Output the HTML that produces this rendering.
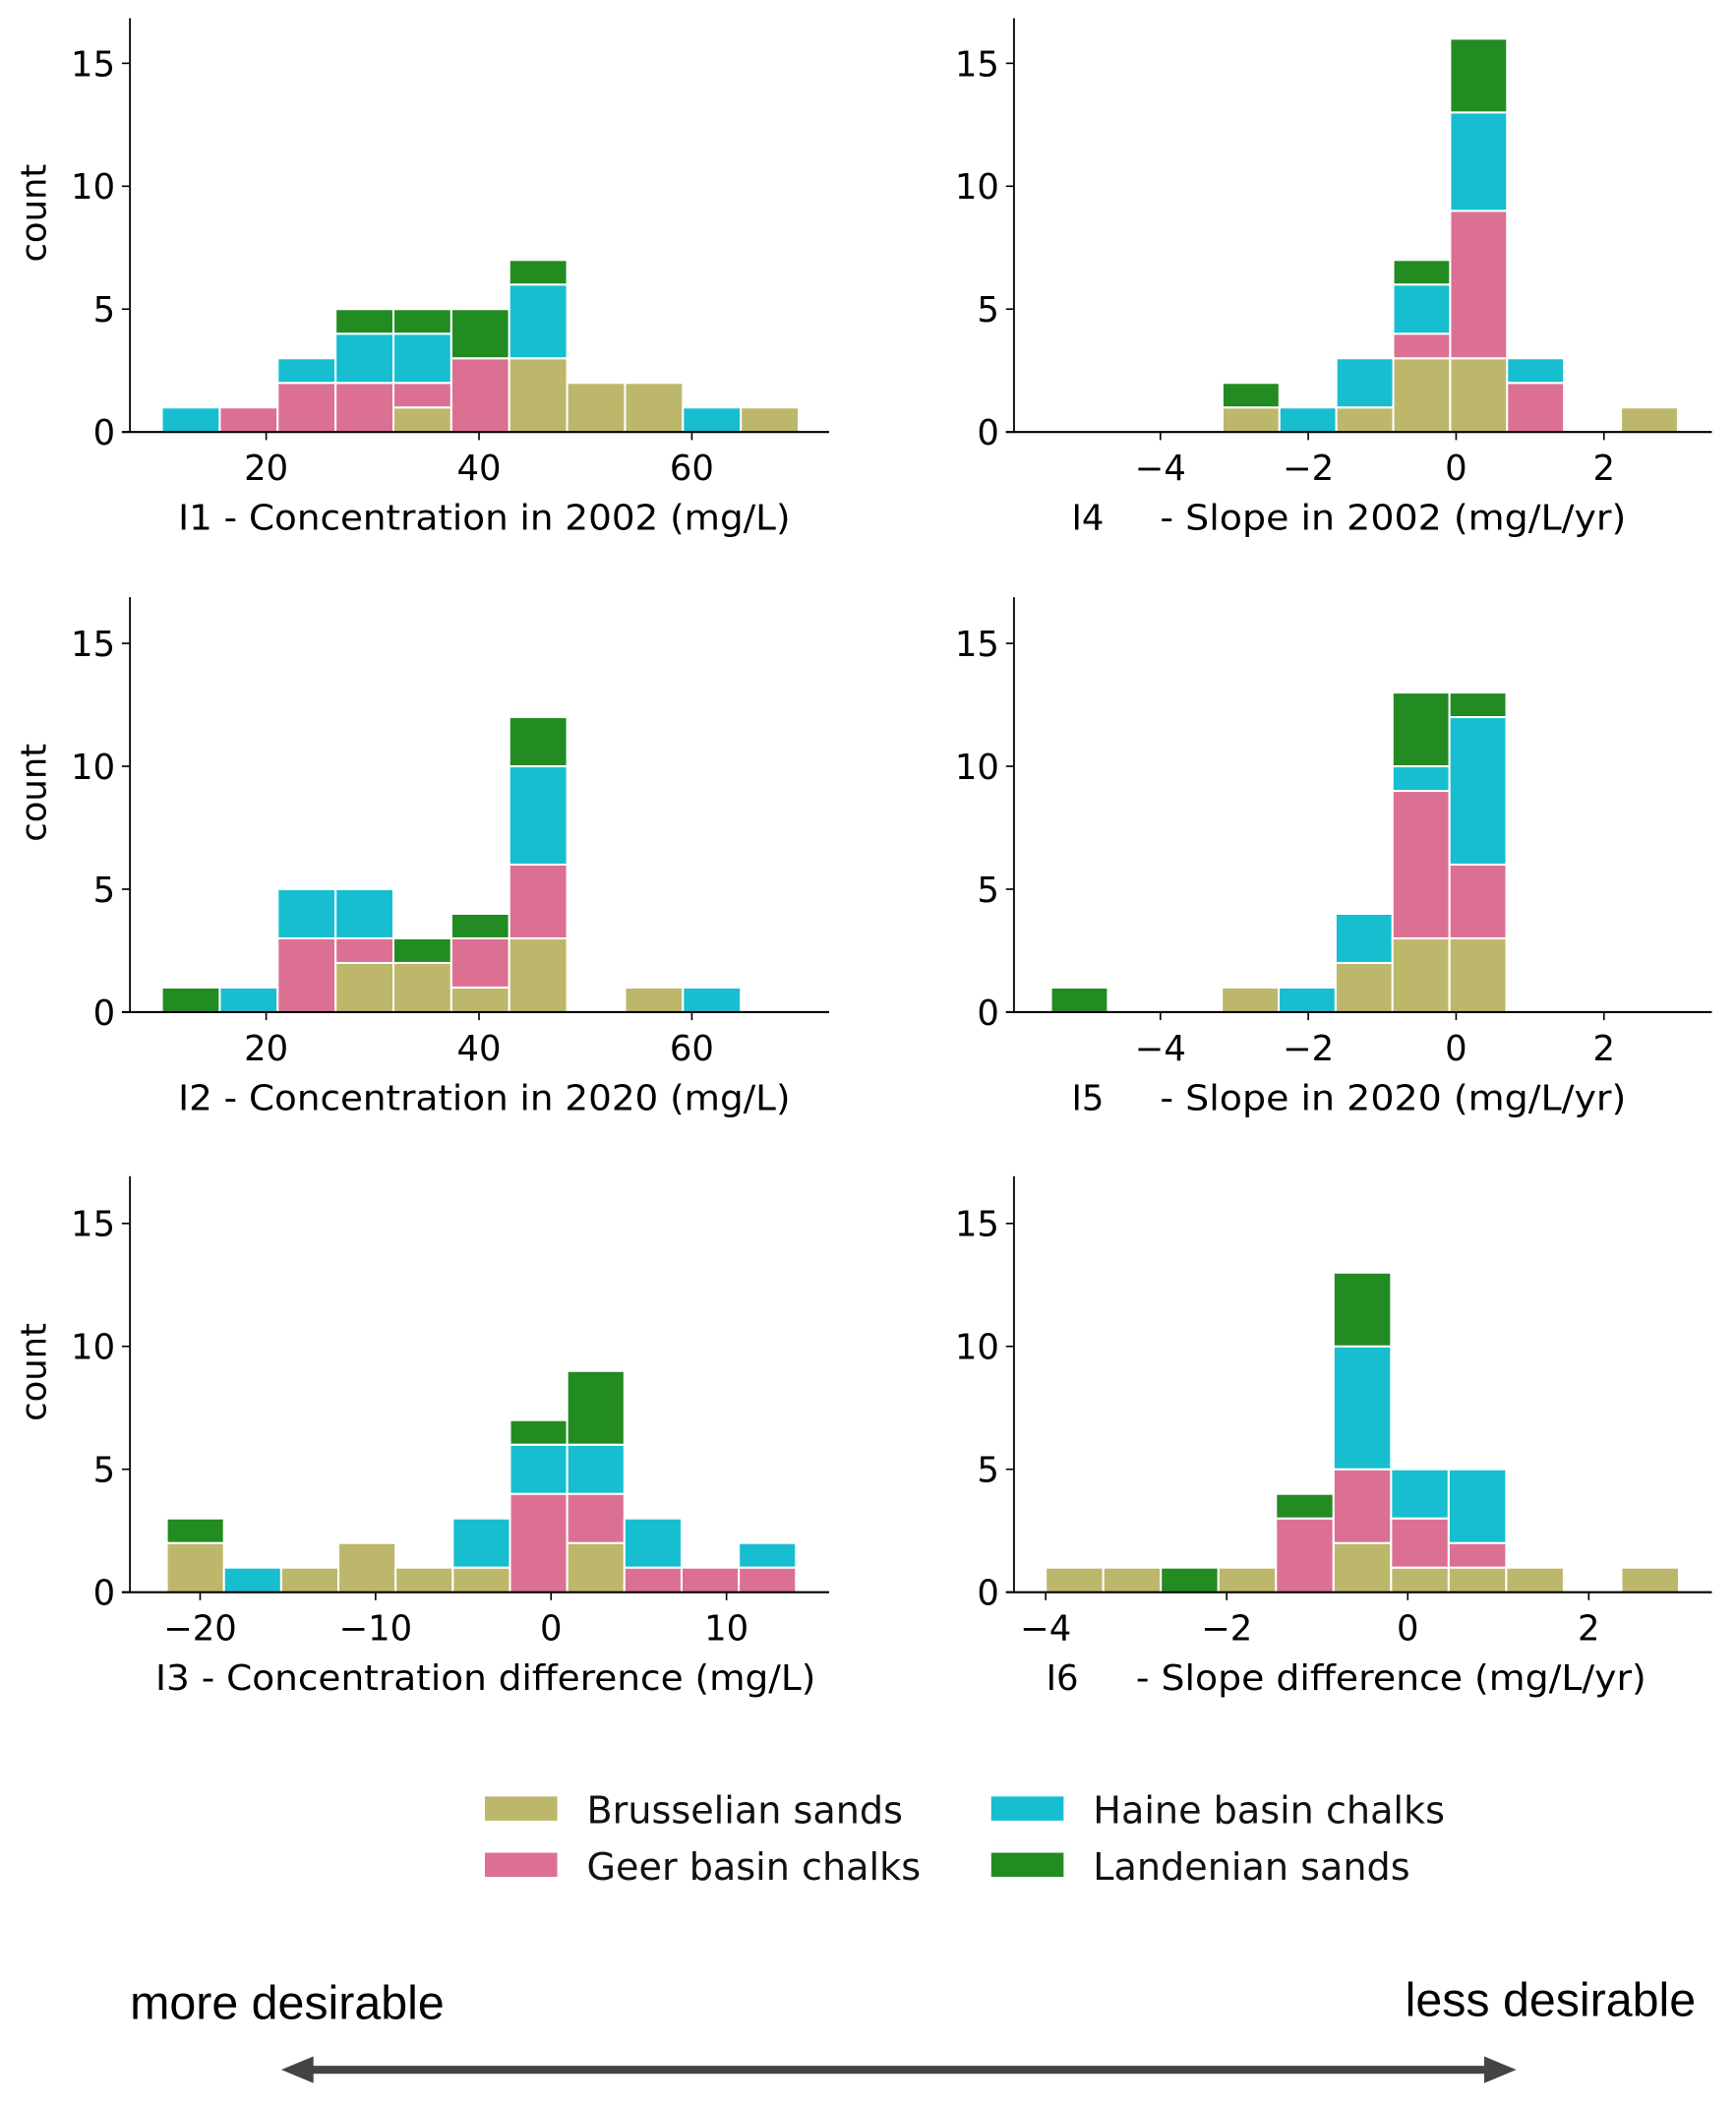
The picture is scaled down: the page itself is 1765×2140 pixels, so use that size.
<!DOCTYPE html>
<html><head><meta charset="utf-8"><style>
html,body{margin:0;padding:0;background:#fff;}
svg{display:block;font-family:"DejaVu Sans","Liberation Sans",sans-serif;}
</style></head><body>
<svg id="fig" width="1765" height="2140" viewBox="0 0 1296 1571.3" preserveAspectRatio="none" xmlns="http://www.w3.org/2000/svg">
<g id="panels"></g>
<g font-size="28" fill="#111">
  <rect x="362" y="1341" width="54" height="18" fill="#bdb76b"/>
  <text x="438" y="1361">Brusselian sands</text>
  <rect x="362" y="1383" width="54" height="18" fill="#db7093"/>
  <text x="438" y="1403">Geer basin chalks</text>
  <rect x="740" y="1341" width="54" height="18" fill="#17becf"/>
  <text x="816" y="1361">Haine basin chalks</text>
  <rect x="740" y="1383" width="54" height="18" fill="#228b22"/>
  <text x="816" y="1403">Landenian sands</text>
</g>
<text x="97" y="1507" font-family="Liberation Sans, sans-serif" font-size="35.5" fill="#000">more desirable</text>
<text x="1266" y="1505" text-anchor="end" font-family="Liberation Sans, sans-serif" font-size="35.5" fill="#000">less desirable</text>
<g fill="#444" stroke="#444">
  <line x1="225" y1="1545" x2="1118" y2="1545" stroke-width="6"/>
  <polygon points="210,1545 234,1535 234,1555" stroke="none"/>
  <polygon points="1132,1545 1108,1535 1108,1555" stroke="none"/>
</g>
</svg>
<script>
// Stack order: Brusselian, Geer, Haine, Landenian
const colors = ["#bdb76b","#db7093","#17becf","#228b22"];
const seriesNames = ["brusselian","geer","haine","landenian"];
const yTicks = [0,5,10,15];

// I1
const i1Edge0 = 10.2, i1Width = 5.44;
const i1Brus = [0,0,0,0,1,0,3,2,2,0,1];
const i1Geer = [0,1,2,2,1,3,0,0,0,0,0];
const i1Haine = [1,0,1,2,2,0,3,0,0,1,0];
const i1Land = [0,0,0,1,1,2,1,0,0,0,0];
const i1Ticks = [20,40,60];
// I2
const i2Edge0 = 10.2, i2Width = 5.44;
const i2Brus = [0,0,0,2,2,1,3,0,1,0,0];
const i2Geer = [0,0,3,1,0,2,3,0,0,0,0];
const i2Haine = [0,1,2,2,0,0,4,0,0,1,0];
const i2Land = [1,0,0,0,1,1,2,0,0,0,0];
const i2Ticks = [20,40,60];
// I3
const i3Edge0 = -21.9, i3Width = 3.26;
const i3Brus = [2,0,1,2,1,1,0,2,0,0,0];
const i3Geer = [0,0,0,0,0,0,4,2,1,1,1];
const i3Haine = [0,1,0,0,0,2,2,2,2,0,1];
const i3Land = [1,0,0,0,0,0,1,3,0,0,0];
const i3Ticks = [-20,-10,0,10];
const i3TickLabels = ["\u221220","\u221210","0","10"];
// I4
const i4Edge0 = -3.16, i4Width = 0.77;
const i4Brus = [1,0,1,3,3,0,0,1];
const i4Geer = [0,0,0,1,6,2,0,0];
const i4Haine = [0,1,2,2,4,1,0,0];
const i4Land = [1,0,0,1,3,0,0,0];
const slopeTicks = [-4,-2,0,2];
const slopeTickLabels = ["\u22124","\u22122","0","2"];
// I5
const i5Edge0 = -5.48, i5Width = 0.77;
const i5Brus = [0,0,0,1,0,2,3,3];
const i5Geer = [0,0,0,0,0,0,6,3];
const i5Haine = [0,0,0,0,1,2,1,6];
const i5Land = [1,0,0,0,0,0,3,1];
// I6
const i6Edge0 = -4.0, i6Width = 0.636;
const i6Brus = [1,1,0,1,0,2,1,1,1,0,1];
const i6Geer = [0,0,0,0,3,3,2,1,0,0,0];
const i6Haine = [0,0,0,0,0,5,2,3,0,0,0];
const i6Land = [0,0,1,0,1,3,0,0,0,0,0];

const NS="http://www.w3.org/2000/svg";
const root=document.getElementById('panels');
function mk(tag,attrs,parent){const e=document.createElementNS(NS,tag);for(const k in attrs)e.setAttribute(k,attrs[k]);parent.appendChild(e);return e;}

const panels=[
 {id:"i1",lab:"I1 - Concentration in 2002 (mg/L)",labX:[133,590],ax:{px0:97,px1:619,v0:7.2,v1:72.9},base:322.5,top:13.6,edge0:i1Edge0,w:i1Width,s:[i1Brus,i1Geer,i1Haine,i1Land],ticks:i1Ticks,tl:i1Ticks.map(String),ylab:true},
 {id:"i4",lab2:"I4",lab:"- Slope in 2002 (mg/L/yr)",labX:[866,1214],lab2X:800,ax:{px0:757,px1:1278,v0:-5.98,v1:3.46},base:322.5,top:13.6,edge0:i4Edge0,w:i4Width,s:[i4Brus,i4Geer,i4Haine,i4Land],ticks:slopeTicks,tl:slopeTickLabels},
 {id:"i2",lab:"I2 - Concentration in 2020 (mg/L)",labX:[133,590],ax:{px0:97,px1:619,v0:7.2,v1:72.9},base:755.5,top:445.8,edge0:i2Edge0,w:i2Width,s:[i2Brus,i2Geer,i2Haine,i2Land],ticks:i2Ticks,tl:i2Ticks.map(String),ylab:true},
 {id:"i5",lab2:"I5",lab:"- Slope in 2020 (mg/L/yr)",labX:[866,1214],lab2X:800,ax:{px0:757,px1:1278,v0:-5.98,v1:3.46},base:755.5,top:445.8,edge0:i5Edge0,w:i5Width,s:[i5Brus,i5Geer,i5Haine,i5Land],ticks:slopeTicks,tl:slopeTickLabels},
 {id:"i3",lab:"I3 - Concentration difference (mg/L)",labX:[116,609],ax:{px0:97,px1:619,v0:-24.0,v1:15.85},base:1188.5,top:878,edge0:i3Edge0,w:i3Width,s:[i3Brus,i3Geer,i3Haine,i3Land],ticks:i3Ticks,tl:i3TickLabels,ylab:true},
 {id:"i6",lab2:"I6",lab:"- Slope difference (mg/L/yr)",labX:[848,1229],lab2X:781,ax:{px0:757,px1:1278,v0:-4.35,v1:3.36},base:1188.5,top:878,edge0:i6Edge0,w:i6Width,s:[i6Brus,i6Geer,i6Haine,i6Land],ticks:slopeTicks,tl:slopeTickLabels}
];
const perCount=18.35;

panels.forEach(p=>{
  const g=mk('g',{},root);
  
  
  const xs=v=>p.ax.px0+(v-p.ax.v0)/(p.ax.v1-p.ax.v0)*(p.ax.px1-p.ax.px0);
  const ys=c=>p.base-c*perCount;
  const n=p.s[0].length;
  for(let i=0;i<n;i++){
    let cum=0;
    const x0=xs(p.edge0+i*p.w), x1=xs(p.edge0+(i+1)*p.w);
    for(let k=0;k<4;k++){
      const c=p.s[k][i];
      if(c>0){
        const r=mk('rect',{x:x0,y:ys(cum+c),width:x1-x0,height:c*perCount,fill:colors[k],stroke:'#fff','stroke-width':1.5},g);
        
        
      }
      cum+=c;
    }
  }
  const ya=mk('line',{x1:p.ax.px0,y1:p.top,x2:p.ax.px0,y2:p.base,stroke:'#000','stroke-width':1.3},g);
  
  
  const xa=mk('line',{x1:p.ax.px0-6,y1:p.base,x2:p.ax.px1,y2:p.base,stroke:'#000','stroke-width':1.6},g);
  
  
  yTicks.forEach(t=>{
    mk('line',{x1:p.ax.px0-6,y1:ys(t),x2:p.ax.px0,y2:ys(t),stroke:'#000','stroke-width':1.2},g);
    const tx=mk('text',{x:p.ax.px0-11,y:ys(t)+9.5,'text-anchor':'end','font-size':26,fill:'#000'},g);
    tx.textContent=String(t);
    
    
  });
  p.ticks.forEach((t,j)=>{
    mk('line',{x1:xs(t),y1:p.base,x2:xs(t),y2:p.base+6,stroke:'#000','stroke-width':1.2},g);
    const tx=mk('text',{x:xs(t),y:p.base+36,'text-anchor':'middle','font-size':26,fill:'#000'},g);
    tx.textContent=p.tl[j];
    
    
  });
  const lt=mk('text',{x:p.labX[0],y:p.base+73,'font-size':26,fill:'#000',textLength:p.labX[1]-p.labX[0],lengthAdjust:'spacingAndGlyphs'},g);
  lt.textContent=p.lab;
  
  
  if(p.lab2){
    const l2=mk('text',{x:p.lab2X,y:p.base+73,'font-size':26,fill:'#000'},g);
    l2.textContent=p.lab2;
    
    
  }
  if(p.ylab){
    const cy=(p.top+p.base)/2+15;
    const yl=mk('text',{x:0,y:0,'font-size':26,fill:'#000','text-anchor':'middle',transform:'translate(34,'+(cy-24)+') rotate(-90)'},g);
    yl.textContent='count';
    
    
  }
});
</script>
</body></html>
